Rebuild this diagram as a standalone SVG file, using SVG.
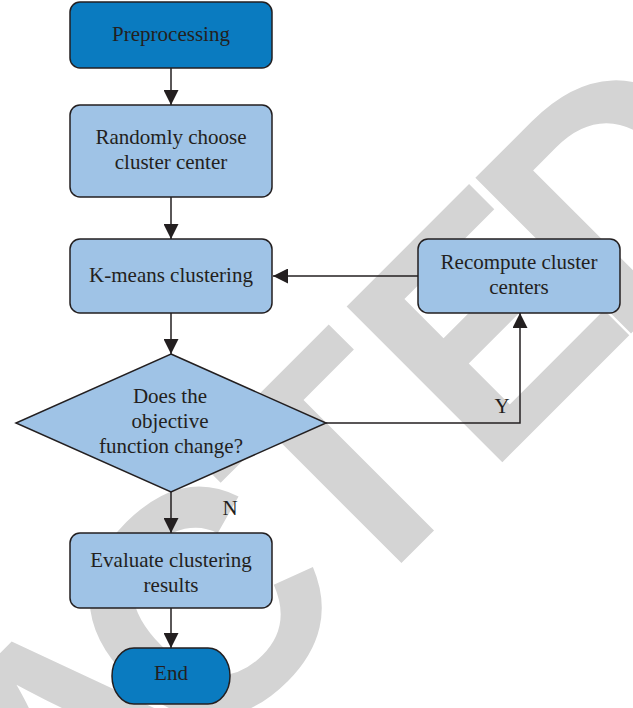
<svg xmlns="http://www.w3.org/2000/svg" width="633" height="708" viewBox="0 0 633 708">
<defs>
<marker id="ah" viewBox="0 0 15 15" refX="15" refY="7.5" markerWidth="15" markerHeight="15" markerUnits="userSpaceOnUse" orient="auto">
<path d="M0,0 L15,7.5 L0,15 z" fill="#231f20"/>
</marker>
</defs>
<style>
.dark{fill:#0a7bc0;stroke:#231f20;stroke-width:1.5}
.light{fill:#9fc3e6;stroke:#231f20;stroke-width:1.5}
.t{font-family:"Liberation Serif","Times New Roman",serif;font-size:21px;fill:#231f20;text-anchor:middle}
.c{fill:none;stroke:#231f20;stroke-width:1.5;marker-end:url(#ah)}
.wm{font-family:"Liberation Sans",Arial,sans-serif;font-weight:bold;font-size:320px;fill:#d4d4d4;font-kerning:none}
</style>
<rect width="633" height="708" fill="#ffffff"/>
<g id="watermark" transform="rotate(-45)">
<text class="wm" x="-1459 -1228 -1015 -819 -588 -402 -189 7 189" y="682">RETRACTED</text>
</g>
<g id="connectors">
<line class="c" x1="171" y1="68" x2="171" y2="105"/>
<line class="c" x1="171" y1="197" x2="171" y2="239"/>
<line class="c" x1="171" y1="313" x2="171" y2="354"/>
<line class="c" x1="171" y1="492" x2="171" y2="533"/>
<line class="c" x1="171" y1="608" x2="171" y2="648"/>
<line class="c" x1="418" y1="276" x2="273" y2="276"/>
<polyline class="c" points="326,423 520,423 520,313"/>
<text class="t" x="502" y="413">Y</text>
<text class="t" x="230" y="515">N</text>
</g>
<g id="preprocessing">
<rect class="dark" x="70" y="2" width="202" height="66" rx="10"/>
<text class="t" x="171" y="41">Preprocessing</text>
</g>
<g id="randomly">
<rect class="light" x="70" y="105" width="202" height="92" rx="10"/>
<text class="t" x="171" y="144">Randomly choose</text>
<text class="t" x="171" y="169">cluster center</text>
</g>
<g id="kmeans">
<rect class="light" x="70" y="239" width="202" height="74" rx="10"/>
<text class="t" x="171" y="282">K-means clustering</text>
</g>
<g id="recompute">
<rect class="light" x="418" y="239" width="202" height="74" rx="10"/>
<text class="t" x="519" y="269">Recompute cluster</text>
<text class="t" x="519" y="294">centers</text>
</g>
<g id="decision">
<polygon class="light" points="171,354 326,423 171,492 16,423"/>
<text class="t" x="170" y="403">Does the</text>
<text class="t" x="170" y="428">objective</text>
<text class="t" x="171" y="453">function change?</text>
</g>
<g id="evaluate">
<rect class="light" x="70" y="533" width="202" height="75" rx="10"/>
<text class="t" x="171" y="567">Evaluate clustering</text>
<text class="t" x="171" y="592">results</text>
</g>
<g id="end">
<rect class="dark" x="112" y="648" width="118" height="56" rx="22" ry="28"/>
<text class="t" x="171" y="680">End</text>
</g>
</svg>
